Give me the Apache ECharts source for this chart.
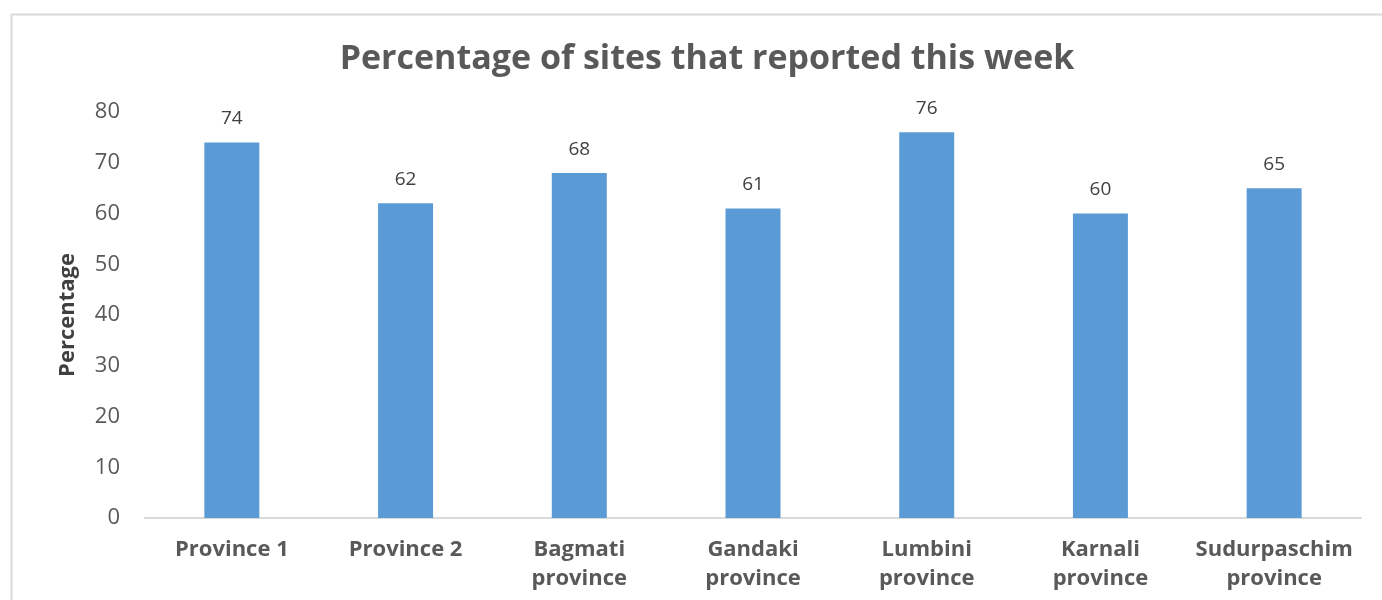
<!DOCTYPE html>
<html>
<head>
<meta charset="utf-8">
<title>Percentage of sites that reported this week</title>
<script src="https://cdn.jsdelivr.net/npm/echarts@6/dist/echarts.min.js"></script>
<style>
  html, body { margin: 0; padding: 0; background: #fff; }
  #chart { width: 1382px; height: 600px; }
</style>
</head>
<body>
<div id="chart"></div>
<script>
// categories and values
var provinces = [
  "Province 1",
  "Province 2",
  "Bagmati\nprovince",
  "Gandaki\nprovince",
  "Lumbini\nprovince",
  "Karnali\nprovince",
  "Sudurpaschim\nprovince"
];
var reported = [74, 62, 68, 61, 76, 60, 65];
var yTicks = { min: 0, max: 80, interval: 10 };

var myChart = echarts.init(document.getElementById("chart"));
myChart.setOption({
  animation: false,
  textStyle: { fontFamily: "Open Sans" },
  title: {
    text: "Percentage of sites that reported this week",
    left: 702,
    top: 37,
    textAlign: "center",
    textStyle: {
      fontFamily: "Open Sans",
      fontSize: 34,
      fontWeight: "bold",
      color: "#595959"
    }
  },
  // light frame round the chart area
  graphic: [
    {
      type: "rect",
      shape: { x: 11.5, y: 14.5, width: 1400, height: 620 },
      style: { fill: "none", stroke: "#d9d9d9", lineWidth: 2 },
      silent: true
    }
  ],
  grid: {
    left: 145,
    right: 21,
    top: 112,
    bottom: 82,
    containLabel: false
  },
  xAxis: {
    type: "category",
    data: provinces,
    axisLine: { lineStyle: { color: "#d9d9d9", width: 2 } },
    axisTick: { show: false },
    axisLabel: {
      interval: 0,
      margin: 17,
      fontSize: 22,
      fontWeight: "bold",
      color: "#595959",
      lineHeight: 29
    }
  },
  yAxis: {
    type: "value",
    min: yTicks.min,
    max: yTicks.max,
    interval: yTicks.interval,
    name: "Percentage",
    nameLocation: "middle",
    nameGap: 66,
    nameTextStyle: {
      fontSize: 22,
      fontWeight: "bold",
      color: "#404040"
    },
    axisLine: { show: false },
    axisTick: { show: false },
    splitLine: { show: false },
    axisLabel: {
      margin: 25,
      fontSize: 22,
      color: "#595959"
    }
  },
  series: [
    {
      type: "bar",
      data: reported,
      barWidth: 55,
      itemStyle: { color: "#5b9bd5" },
      label: {
        show: true,
        position: "top",
        distance: 14,
        fontSize: 19,
        color: "#404040"
      }
    }
  ]
});
</script>
</body>
</html>
